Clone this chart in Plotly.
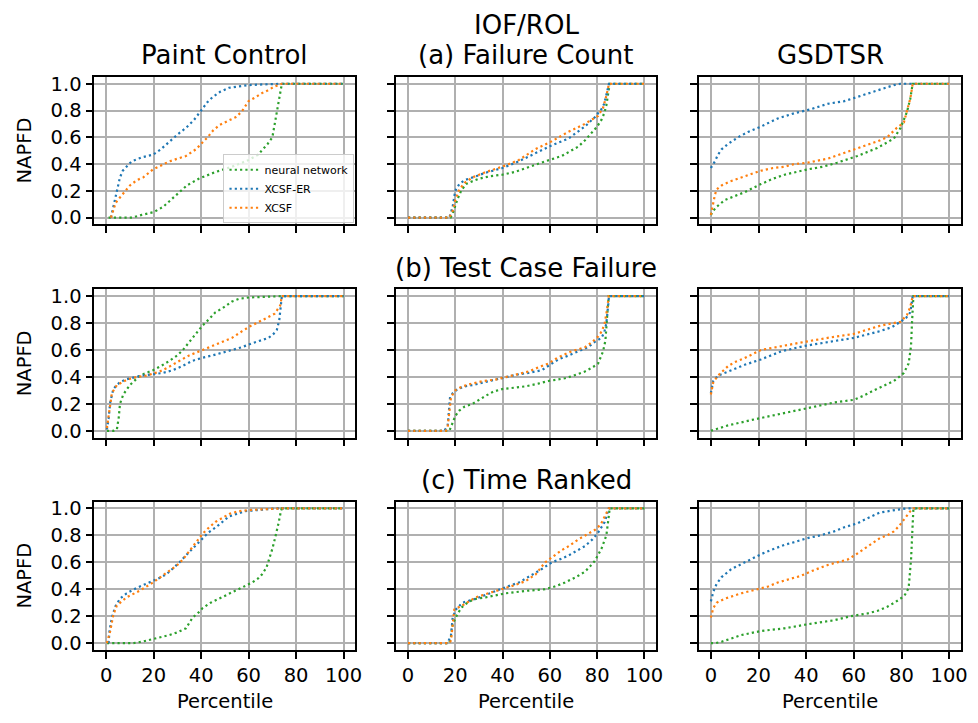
import plotly.graph_objects as go
from plotly.subplots import make_subplots

# ---------------- data (percentile x, NAPFD y) ----------------
methods = ["neural network", "XCSF-ER", "XCSF"]
colors = ["#2ca02c", "#1f77b4", "#ff7f0e"]
datasets = ["Paint Control", "IOF/ROL", "GSDTSR"]
rewards = ["(a) Failure Count", "(b) Test Case Failure", "(c) Time Ranked"]
x_ticks = [0, 20, 40, 60, 80, 100]
y_ticks = [0.0, 0.2, 0.4, 0.6, 0.8, 1.0]

# Row (a) Failure Count
fc_pc_nn_x = [1, 5, 11, 15, 20, 24, 27, 30, 34, 39, 46, 53, 60, 64, 66, 68, 70, 71, 72, 72.6, 73.2, 73.7, 74, 80, 100]
fc_pc_nn_y = [0, 0, 0, 0.02, 0.04, 0.08, 0.13, 0.18, 0.24, 0.29, 0.34, 0.38, 0.43, 0.47, 0.51, 0.55, 0.60, 0.69, 0.78, 0.86, 0.92, 0.97, 1.0, 1.0, 1.0]
fc_pc_er_x = [2, 3, 3.8, 5, 5.8, 7, 9, 10.7, 15, 19.7, 23, 26.7, 30, 33.6, 37, 40, 42.5, 44.8, 48, 51.7, 56, 60, 66, 74, 100]
fc_pc_er_y = [0, 0.08, 0.15, 0.24, 0.30, 0.35, 0.39, 0.42, 0.45, 0.47, 0.51, 0.57, 0.62, 0.67, 0.73, 0.80, 0.86, 0.90, 0.94, 0.97, 0.98, 0.99, 0.995, 1.0, 1.0]
fc_pc_xc_x = [2, 3, 4, 5.8, 8, 10, 13, 15.6, 19.7, 23, 26.7, 30, 33.6, 37.8, 40, 42.7, 45, 47.6, 51, 54.5, 57, 58.7, 60, 63, 65.6, 68, 71, 74, 100]
fc_pc_xc_y = [0, 0.06, 0.11, 0.15, 0.20, 0.24, 0.28, 0.30, 0.36, 0.39, 0.42, 0.44, 0.46, 0.51, 0.55, 0.60, 0.65, 0.69, 0.72, 0.75, 0.79, 0.84, 0.87, 0.90, 0.93, 0.95, 0.98, 1.0, 1.0]

fc_io_nn_x = [0, 18, 18.9, 21, 22.5, 24.5, 27, 30, 35, 39.9, 45, 49.7, 55, 58, 65, 72, 75, 77.6, 80, 81.8, 83, 83.9, 84.7, 85.3, 100]
fc_io_nn_y = [0, 0, 0.03, 0.14, 0.20, 0.25, 0.27, 0.29, 0.31, 0.32, 0.34, 0.37, 0.40, 0.42, 0.46, 0.53, 0.58, 0.63, 0.68, 0.73, 0.78, 0.84, 0.92, 1.0, 1.0]
fc_io_er_x = [0, 17.5, 18.9, 20, 21.7, 24, 27.3, 32.9, 39.9, 46.9, 53.8, 60.8, 67.8, 74.8, 79, 81.8, 83, 83.9, 84.5, 85, 100]
fc_io_er_y = [0, 0, 0.08, 0.20, 0.25, 0.28, 0.30, 0.335, 0.37, 0.42, 0.48, 0.54, 0.59, 0.68, 0.75, 0.81, 0.85, 0.91, 0.96, 1.0, 1.0]
fc_io_xc_x = [0, 17.5, 18.9, 20, 21.7, 24, 27.3, 32.9, 39.9, 46.9, 53.8, 60.8, 67.8, 74.8, 80.4, 82.5, 83.9, 84.5, 85, 100]
fc_io_xc_y = [0, 0, 0.05, 0.13, 0.21, 0.26, 0.30, 0.34, 0.38, 0.43, 0.51, 0.57, 0.64, 0.70, 0.76, 0.82, 0.91, 0.96, 1.0, 1.0]

fc_gs_nn_x = [0, 1, 2.4, 5.8, 10, 14.2, 21, 26, 30.9, 40.6, 47, 53, 61.5, 69.8, 76.8, 79.6, 82.3, 83.7, 84.7, 100]
fc_gs_nn_y = [0.02, 0.05, 0.08, 0.13, 0.16, 0.19, 0.25, 0.29, 0.32, 0.36, 0.38, 0.41, 0.46, 0.52, 0.59, 0.67, 0.79, 0.89, 1.0, 1.0]
fc_gs_er_x = [0, 1.7, 3, 4.5, 7.2, 11.4, 15.6, 21, 28, 35, 42, 49, 56, 62.9, 69.8, 76.8, 79.6, 100]
fc_gs_er_y = [0.37, 0.42, 0.47, 0.51, 0.55, 0.60, 0.64, 0.68, 0.74, 0.78, 0.81, 0.85, 0.87, 0.91, 0.95, 0.99, 1.0, 1.0]
fc_gs_xc_x = [0, 0.5, 1, 1.7, 2.4, 4.5, 8, 11.4, 16, 21, 26, 30.9, 35, 40.6, 49, 57.3, 65.6, 70, 74, 78, 81, 82.3, 83.7, 84.7, 100]
fc_gs_xc_y = [0.02, 0.07, 0.13, 0.17, 0.21, 0.24, 0.27, 0.29, 0.32, 0.35, 0.37, 0.38, 0.40, 0.41, 0.44, 0.49, 0.54, 0.57, 0.60, 0.67, 0.71, 0.80, 0.89, 1.0, 1.0]

# Row (b) Test Case Failure
tcf_pc_nn_x = [0.3, 3, 4.5, 5.3, 5.8, 7.2, 10, 14.2, 19.7, 23, 26.7, 30, 32.3, 35, 37.8, 40.5, 43.4, 46, 49, 53, 56, 60, 74, 100]
tcf_pc_nn_y = [0, 0, 0.01, 0.10, 0.20, 0.27, 0.34, 0.41, 0.45, 0.48, 0.52, 0.56, 0.60, 0.66, 0.72, 0.78, 0.83, 0.88, 0.91, 0.96, 0.98, 0.99, 1.0, 1.0]
tcf_pc_er_x = [0.3, 1, 1.7, 3, 4.5, 5.8, 8, 10, 15, 19.7, 24, 28, 32, 36.4, 40, 44.8, 49, 53, 57, 61.5, 65, 68.4, 70.5, 71.9, 72.9, 73.4, 74, 100]
tcf_pc_er_y = [0.01, 0.09, 0.21, 0.31, 0.34, 0.36, 0.38, 0.39, 0.41, 0.42, 0.43, 0.45, 0.48, 0.52, 0.54, 0.56, 0.58, 0.60, 0.62, 0.65, 0.67, 0.69, 0.72, 0.75, 0.82, 0.92, 1.0, 1.0]
tcf_pc_xc_x = [0.3, 1, 1.7, 2.4, 4.5, 8.8, 13, 17, 22.5, 26, 30.9, 35, 40.6, 45, 49, 53, 57.3, 61, 65.6, 71, 73.3, 74, 100]
tcf_pc_xc_y = [0.02, 0.11, 0.21, 0.28, 0.34, 0.38, 0.40, 0.41, 0.44, 0.47, 0.52, 0.56, 0.60, 0.63, 0.66, 0.69, 0.74, 0.78, 0.82, 0.87, 0.93, 1.0, 1.0]

tcf_io_nn_x = [0, 17.5, 18.9, 20, 21.7, 24, 27.3, 30, 32.9, 36, 39.9, 45, 49.7, 55, 59.4, 63, 66.4, 70, 74.8, 78, 80.4, 82.5, 83.5, 84.3, 84.9, 100]
tcf_io_nn_y = [0, 0, 0.06, 0.11, 0.15, 0.18, 0.20, 0.23, 0.26, 0.29, 0.31, 0.32, 0.33, 0.35, 0.37, 0.38, 0.39, 0.41, 0.44, 0.47, 0.50, 0.59, 0.67, 0.87, 1.0, 1.0]
tcf_io_er_x = [0, 15.4, 16.8, 17.3, 17.8, 19, 21, 24, 27.3, 32, 37, 42, 46.9, 51, 56.6, 60, 63.6, 68, 72, 76, 79, 81.8, 83, 83.9, 84.6, 85, 100]
tcf_io_er_y = [0, 0, 0.04, 0.14, 0.25, 0.28, 0.31, 0.33, 0.34, 0.36, 0.38, 0.40, 0.42, 0.43, 0.45, 0.49, 0.53, 0.56, 0.59, 0.62, 0.66, 0.69, 0.73, 0.80, 0.92, 1.0, 1.0]
tcf_io_xc_x = [0, 16, 16.8, 17.3, 18.2, 20, 23, 27, 32, 37, 44, 51, 55, 59.4, 63, 67.8, 71, 74.8, 78, 80.4, 82, 83.2, 84.2, 84.9, 100]
tcf_io_xc_y = [0, 0, 0.03, 0.11, 0.25, 0.30, 0.33, 0.35, 0.37, 0.38, 0.41, 0.44, 0.47, 0.50, 0.54, 0.58, 0.60, 0.62, 0.66, 0.70, 0.74, 0.80, 0.90, 1.0, 1.0]

tcf_gs_nn_x = [0, 7.2, 17, 28, 39.2, 51.7, 60, 64, 68.4, 72, 76.8, 79, 81, 83, 84, 84.4, 84.8, 85, 100]
tcf_gs_nn_y = [0.0, 0.04, 0.08, 0.12, 0.16, 0.21, 0.23, 0.26, 0.30, 0.33, 0.37, 0.40, 0.43, 0.50, 0.63, 0.80, 0.97, 1.0, 1.0]
tcf_gs_er_x = [0, 1, 3, 7.2, 14.2, 21, 29.5, 39.2, 49, 60, 71, 76, 79.6, 82, 83.7, 84.7, 100]
tcf_gs_er_y = [0.28, 0.37, 0.41, 0.44, 0.49, 0.53, 0.59, 0.63, 0.66, 0.69, 0.74, 0.77, 0.81, 0.84, 0.88, 1.0, 1.0]
tcf_gs_xc_x = [0, 1, 3, 7.2, 10, 14.2, 21, 29.5, 39.2, 49, 60, 71, 79.6, 82.3, 83.7, 84.7, 100]
tcf_gs_xc_y = [0.27, 0.36, 0.41, 0.48, 0.51, 0.54, 0.60, 0.63, 0.66, 0.69, 0.72, 0.78, 0.81, 0.86, 0.92, 1.0, 1.0]

# Row (c) Time Ranked
tr_pc_nn_x = [0.3, 11.4, 15, 19.7, 23, 26.7, 30, 33.6, 35, 36.4, 38.5, 40.6, 44, 47.6, 51, 54.5, 58, 61.5, 64, 65.6, 67.5, 69.1, 70, 71, 72, 72.6, 73.6, 74, 100]
tr_pc_nn_y = [0, 0, 0.01, 0.03, 0.04, 0.06, 0.08, 0.11, 0.15, 0.19, 0.22, 0.26, 0.30, 0.33, 0.36, 0.39, 0.42, 0.45, 0.48, 0.51, 0.56, 0.64, 0.70, 0.77, 0.84, 0.89, 0.98, 1.0, 1.0]
tr_pc_er_x = [1, 1.4, 2.4, 3.8, 5.8, 8.6, 12.8, 18.4, 22, 25.3, 28, 30.9, 33.5, 36.4, 38.5, 40.6, 43, 46.2, 49, 51.7, 55, 58.7, 65, 71, 100]
tr_pc_er_y = [0, 0.09, 0.19, 0.27, 0.33, 0.37, 0.41, 0.45, 0.48, 0.51, 0.55, 0.60, 0.65, 0.70, 0.74, 0.78, 0.82, 0.86, 0.90, 0.94, 0.96, 0.98, 0.99, 1.0, 1.0]
tr_pc_xc_x = [0.3, 1.7, 3, 4.5, 8.6, 14.2, 19.7, 23, 26.7, 30, 32.3, 35, 37.8, 40.5, 43.4, 46, 49, 52, 55.9, 62, 74, 100]
tr_pc_xc_y = [0, 0.09, 0.21, 0.28, 0.34, 0.39, 0.45, 0.49, 0.54, 0.58, 0.62, 0.68, 0.75, 0.81, 0.86, 0.90, 0.93, 0.96, 0.98, 0.99, 1.0, 1.0]

tr_io_nn_x = [0, 17.5, 18.2, 18.9, 21, 23, 25.9, 29, 32.9, 41.3, 51, 58, 62, 66.4, 71, 74.8, 77, 79, 81.8, 83.9, 84.9, 85.3, 100]
tr_io_nn_y = [0, 0, 0.05, 0.14, 0.22, 0.27, 0.31, 0.33, 0.34, 0.37, 0.39, 0.40, 0.42, 0.45, 0.49, 0.53, 0.57, 0.61, 0.70, 0.80, 0.94, 1.0, 1.0]
tr_io_er_x = [0, 16.8, 18.2, 18.9, 20.3, 23, 28.7, 33, 37, 42, 46.9, 52, 56.6, 60.8, 64, 67.8, 72, 74.8, 78, 80.4, 83.2, 84.2, 84.9, 100]
tr_io_er_y = [0, 0, 0.06, 0.19, 0.25, 0.30, 0.33, 0.36, 0.39, 0.42, 0.45, 0.50, 0.55, 0.60, 0.62, 0.65, 0.69, 0.72, 0.77, 0.82, 0.90, 0.95, 1.0, 1.0]
tr_io_xc_x = [0, 17.5, 18.2, 18.9, 19.6, 23, 28.7, 34, 39.9, 45, 49.7, 54, 58, 61, 65, 68, 72, 76, 79, 81.5, 83.2, 84.9, 100]
tr_io_xc_y = [0, 0, 0.02, 0.12, 0.25, 0.28, 0.34, 0.37, 0.40, 0.43, 0.46, 0.51, 0.60, 0.64, 0.69, 0.72, 0.77, 0.81, 0.84, 0.88, 0.94, 1.0, 1.0]

tr_gs_nn_x = [0, 2, 4.5, 8, 12.8, 21, 30.9, 40.6, 51.7, 58.7, 65.6, 70, 74, 77, 79.6, 81.5, 83, 84, 84.4, 84.8, 85, 100]
tr_gs_nn_y = [0, 0, 0.01, 0.03, 0.06, 0.09, 0.11, 0.14, 0.17, 0.20, 0.22, 0.24, 0.27, 0.30, 0.33, 0.36, 0.41, 0.62, 0.82, 0.99, 1.0, 1.0]
tr_gs_er_x = [0, 1, 2.4, 4.5, 8.6, 14.2, 21, 25, 30.9, 35, 40.6, 46, 51.7, 56, 61.5, 66, 71, 78, 82.3, 100]
tr_gs_er_y = [0.31, 0.38, 0.44, 0.49, 0.55, 0.60, 0.66, 0.69, 0.73, 0.75, 0.78, 0.80, 0.83, 0.86, 0.89, 0.93, 0.97, 0.99, 1.0, 1.0]
tr_gs_xc_x = [0, 1, 2.4, 5.8, 12.8, 19.7, 24, 28, 32, 37.8, 43, 49, 53, 57.3, 61, 64.4, 68, 71, 74, 76.8, 79, 81, 83.7, 85, 100]
tr_gs_xc_y = [0.19, 0.26, 0.30, 0.33, 0.37, 0.40, 0.42, 0.45, 0.47, 0.50, 0.54, 0.58, 0.60, 0.62, 0.66, 0.70, 0.74, 0.78, 0.80, 0.83, 0.87, 0.92, 0.98, 1.0, 1.0]

panels = [
    [[(fc_pc_nn_x, fc_pc_nn_y), (fc_pc_er_x, fc_pc_er_y), (fc_pc_xc_x, fc_pc_xc_y)],
     [(fc_io_nn_x, fc_io_nn_y), (fc_io_er_x, fc_io_er_y), (fc_io_xc_x, fc_io_xc_y)],
     [(fc_gs_nn_x, fc_gs_nn_y), (fc_gs_er_x, fc_gs_er_y), (fc_gs_xc_x, fc_gs_xc_y)]],
    [[(tcf_pc_nn_x, tcf_pc_nn_y), (tcf_pc_er_x, tcf_pc_er_y), (tcf_pc_xc_x, tcf_pc_xc_y)],
     [(tcf_io_nn_x, tcf_io_nn_y), (tcf_io_er_x, tcf_io_er_y), (tcf_io_xc_x, tcf_io_xc_y)],
     [(tcf_gs_nn_x, tcf_gs_nn_y), (tcf_gs_er_x, tcf_gs_er_y), (tcf_gs_xc_x, tcf_gs_xc_y)]],
    [[(tr_pc_nn_x, tr_pc_nn_y), (tr_pc_er_x, tr_pc_er_y), (tr_pc_xc_x, tr_pc_xc_y)],
     [(tr_io_nn_x, tr_io_nn_y), (tr_io_er_x, tr_io_er_y), (tr_io_xc_x, tr_io_xc_y)],
     [(tr_gs_nn_x, tr_gs_nn_y), (tr_gs_er_x, tr_gs_er_y), (tr_gs_xc_x, tr_gs_xc_y)]],
]

# ---------------- layout geometry (pixels) ----------------
W, H = 978, 723
col_px = [(95, 358), (399, 661), (704, 968)]
row_px = [(74, 223), (289, 439), (504, 654)]
FONT = "DejaVu Sans"
TICK_SIZE = 19.5
TITLE_SIZE = 26

fig = make_subplots(rows=3, cols=3)

for r in range(3):
    for c in range(3):
        for m in range(3):
            xs, ys = panels[r][c][m]
            fig.add_trace(go.Scatter(
                x=xs, y=ys, mode="lines", name=methods[m],
                line=dict(color=colors[m], width=2.2, dash="2.2px,3.1px"),
                showlegend=(r == 0 and c == 0), legendgroup=methods[m],
            ), row=r + 1, col=c + 1)

axis_common = dict(
    showline=True, mirror=True, linecolor="black", linewidth=1.6,
    showgrid=True, gridcolor="#b0b0b0", gridwidth=1.6, zeroline=False,
    ticks="outside", ticklen=7, tickwidth=1.6, tickcolor="black",
    tickfont=dict(family=FONT, size=TICK_SIZE, color="black"),
)

for r in range(3):
    for c in range(3):
        idx = r * 3 + c + 1
        xa = "xaxis" if idx == 1 else f"xaxis{idx}"
        ya = "yaxis" if idx == 1 else f"yaxis{idx}"
        x0, x1 = col_px[c]
        y0, y1 = row_px[r]
        fig.layout[xa].update(
            domain=[x0 / W, x1 / W], range=[-5, 105], tickvals=x_ticks,
            showticklabels=(r == 2), **axis_common)
        fig.layout[ya].update(
            domain=[1 - y1 / H, 1 - y0 / H], range=[-0.05, 1.05], tickvals=y_ticks,
            tickformat=".1f", showticklabels=(c == 0), **axis_common)

annotations = []

def title(text, cx, baseline_px, size=TITLE_SIZE):
    annotations.append(dict(
        text=text, x=cx / W, y=1 - (baseline_px - 0.346 * size) / H,
        xref="paper", yref="paper", xanchor="center", yanchor="middle",
        showarrow=False, font=dict(family=FONT, size=size, color="black")))

centers = [(a + b) / 2 for a, b in col_px]
title(datasets[0], centers[0], 61)
title(datasets[1], centers[1], 30)
title(rewards[0], centers[1], 61)
title(datasets[2], centers[2], 61)
title(rewards[1], centers[1], 276)
title(rewards[2], centers[1], 491)

for r in range(3):
    yc = (row_px[r][0] + row_px[r][1]) / 2
    annotations.append(dict(
        text="NAPFD", x=25 / W, y=1 - yc / H, xref="paper", yref="paper",
        xanchor="center", yanchor="middle", textangle=-90, showarrow=False,
        font=dict(family=FONT, size=TICK_SIZE, color="black")))
for c in range(3):
    annotations.append(dict(
        text="Percentile", x=centers[c] / W, y=1 - 706 / H, xref="paper", yref="paper",
        xanchor="center", yanchor="middle", showarrow=False,
        font=dict(family=FONT, size=TICK_SIZE, color="black")))

fig.update_layout(
    width=W, height=H, margin=dict(l=0, r=0, t=0, b=0),
    paper_bgcolor="white", plot_bgcolor="white",
    annotations=annotations,
    legend=dict(
        x=357 / W, y=1 - 222 / H, xanchor="right", yanchor="bottom",
        bgcolor="rgba(255,255,255,0.8)", bordercolor="#cccccc", borderwidth=1,
        font=dict(family=FONT, size=11, color="black"),
        tracegroupgap=0, itemwidth=30,
    ),
)

fig.write_html("out.html")
